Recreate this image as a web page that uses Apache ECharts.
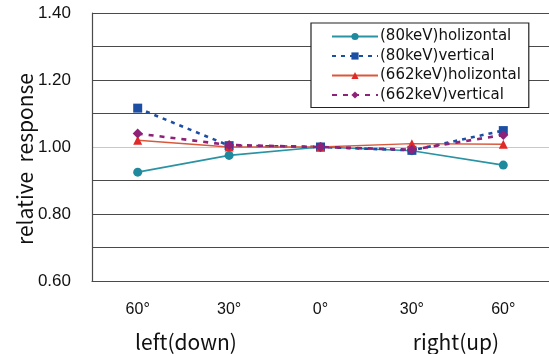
<!DOCTYPE html>
<html>
<head>
<meta charset="utf-8">
<script src="https://cdn.jsdelivr.net/npm/echarts@6/dist/echarts.min.js"></script>
<style>
  html, body { margin: 0; padding: 0; background: #fff; }
  #chart { width: 549px; height: 354px; }
</style>
</head>
<body>
<div id="chart"></div>
<script>
// angle categories, left side first
const angles = ['60°', '30°', '0°', '30°', '60°'];

// relative response
const h80 = [0.925, 0.975, 1.0, 0.989, 0.946];
const v80 = [1.116, 1.004, 1.0, 0.99, 1.049];
const h662 = [1.02, 1.0, 1.0, 1.01, 1.008];
const v662 = [1.04, 1.006, 1.0, 0.992, 1.036];

const seriesNames = ['(80keV)holizontal', '(80keV)vertical', '(662keV)holizontal', '(662keV)vertical'];

const chart = echarts.init(document.getElementById('chart'));

const gridDark = '#4a4a4a';
const FONT = 'Liberation Sans';
const JP = 'Noto Sans CJK JP';

const option = {
  animation: false,
  backgroundColor: '#fff',
  grid: { left: 92, top: 13, right: -8, bottom: 73 },
  legend: {
    orient: 'vertical',
    left: 311,
    top: 23,
    width: 237,
    height: 84,
    padding: [6, 8, 5, 20],
    itemGap: 4.5,
    itemWidth: 46,
    itemHeight: 9,
    borderColor: '#222',
    borderWidth: 1.2,
    backgroundColor: '#fff',
    textStyle: { fontFamily: 'DejaVu Sans', fontSize: 15, lineHeight: 15, color: '#111', padding: [0, 0, 0, -3] },
    data: seriesNames
  },
  xAxis: {
    type: 'category',
    data: angles,
    boundaryGap: true,
    axisLine: { lineStyle: { color: gridDark, width: 1.2 } },
    axisTick: { inside: true, length: 5, lineStyle: { color: gridDark } },
    axisLabel: { margin: 21, fontFamily: FONT, fontSize: 16, color: '#111' }
  },
  yAxis: {
    type: 'value',
    min: 0.6,
    max: 1.4,
    interval: 0.1,
    axisLine: { show: true, lineStyle: { color: gridDark, width: 1.2 } },
    axisTick: { show: false },
    axisLabel: {
      margin: 21,
      fontFamily: FONT,
      fontSize: 17,
      color: '#111',
      formatter: v => (Math.round(v * 10) % 2 === 0 ? v.toFixed(2) : '')
    },
    splitLine: {
      lineStyle: {
        color: [gridDark, gridDark, gridDark, gridDark, '#c8c8c8', gridDark, gridDark, gridDark, gridDark],
        width: 1.2
      }
    }
  },
  graphic: [
    {
      type: 'text',
      x: 25,
      y: 159,
      rotation: Math.PI / 2,
      style: {
        text: 'relative  response',
        fontFamily: JP,
        fontSize: 21,
        fill: '#111',
        align: 'center',
        verticalAlign: 'middle'
      }
    },
    {
      type: 'text',
      x: 186,
      y: 342,
      style: { text: 'left(down)', fontFamily: JP, fontSize: 21, fill: '#111', align: 'center', verticalAlign: 'middle' }
    },
    {
      type: 'text',
      x: 456,
      y: 342,
      style: { text: 'right(up)', fontFamily: JP, fontSize: 21, fill: '#111', align: 'center', verticalAlign: 'middle' }
    }
  ],
  series: [
    {
      name: seriesNames[0],
      type: 'line',
      data: h80,
      symbol: 'circle',
      symbolSize: 9,
      color: '#1f8a9e',
      lineStyle: { width: 1.6, color: '#2a93a3' }
    },
    {
      name: seriesNames[1],
      type: 'line',
      data: v80,
      symbol: 'rect',
      symbolSize: 9,
      color: '#1c4fa3',
      lineStyle: { width: 2.6, type: [4, 5] }
    },
    {
      name: seriesNames[2],
      type: 'line',
      data: h662,
      symbol: 'triangle',
      symbolSize: 9,
      color: '#e02a2a',
      lineStyle: { width: 1.4, color: '#d9583c' }
    },
    {
      name: seriesNames[3],
      type: 'line',
      data: v662,
      symbol: 'diamond',
      symbolSize: 10,
      color: '#8e2178',
      lineStyle: { width: 2.6, type: [5, 6] }
    }
  ]
};

chart.setOption(option);
</script>
</body>
</html>
